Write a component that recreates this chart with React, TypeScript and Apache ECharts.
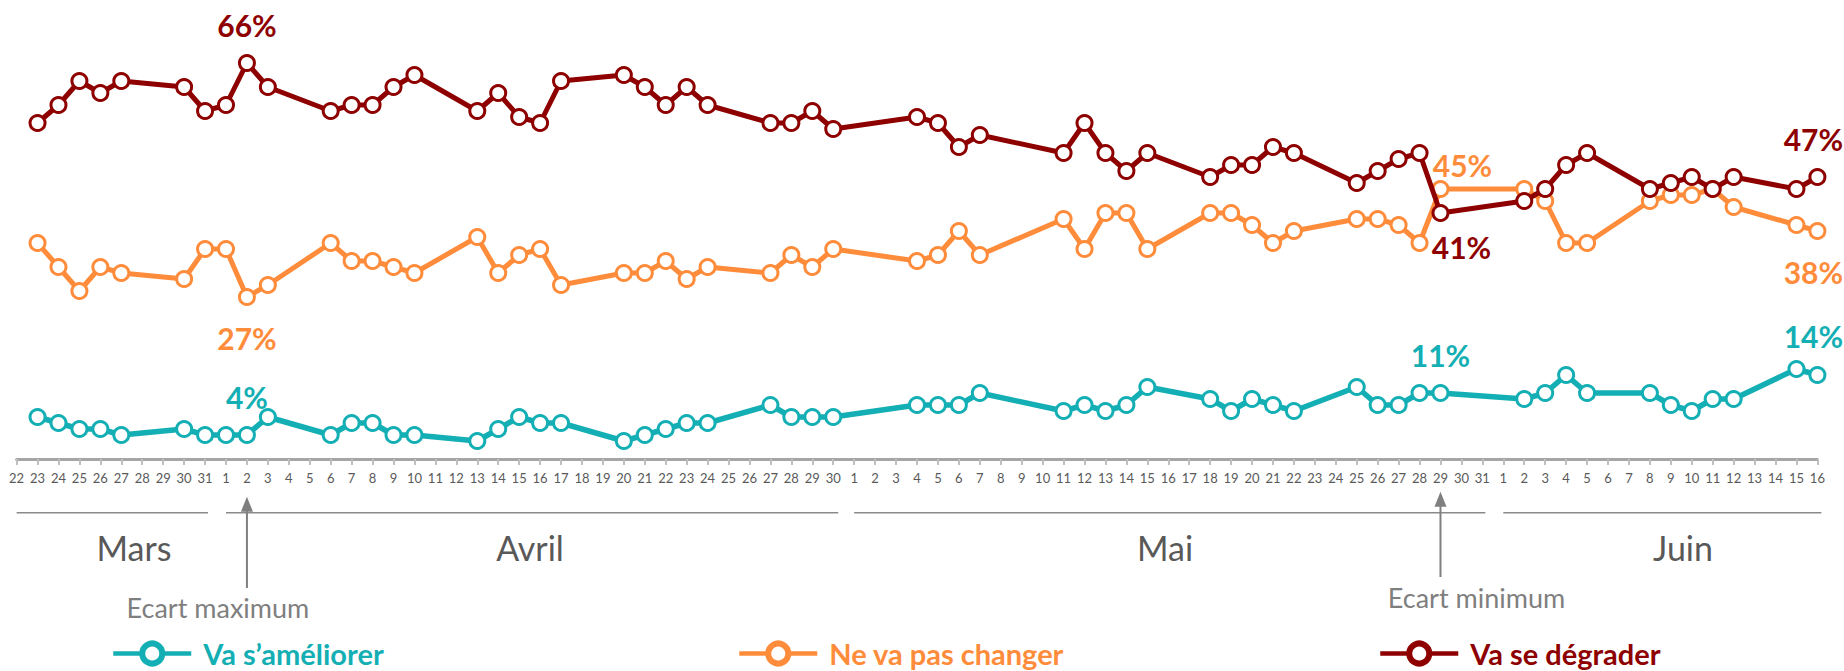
import React, { useEffect, useRef } from 'react';
import * as echarts from 'echarts';

// ---- Axis categories (days) ----
const marsDays = [22, 23, 24, 25, 26, 27, 28, 29, 30, 31];
const avrilDays = [1, 2, 3, 4, 5, 6, 7, 8, 9, 10, 11, 12, 13, 14, 15, 16, 17, 18, 19, 20, 21, 22, 23, 24, 25, 26, 27, 28, 29, 30];
const maiDays = [1, 2, 3, 4, 5, 6, 7, 8, 9, 10, 11, 12, 13, 14, 15, 16, 17, 18, 19, 20, 21, 22, 23, 24, 25, 26, 27, 28, 29, 30, 31];
const juinDays = [1, 2, 3, 4, 5, 6, 7, 8, 9, 10, 11, 12, 13, 14, 15, 16];

const monthNames = ['Mars', 'Avril', 'Mai', 'Juin'];

// ---- Survey dates ----
const surveyDates = [
  '23/03', '24/03', '25/03', '26/03', '27/03', '30/03', '31/03',
  '1/04', '2/04', '3/04', '6/04', '7/04', '8/04', '9/04', '10/04', '13/04', '14/04', '15/04', '16/04', '17/04',
  '20/04', '21/04', '22/04', '23/04', '24/04', '27/04', '28/04', '29/04', '30/04',
  '4/05', '5/05', '6/05', '7/05', '11/05', '12/05', '13/05', '14/05', '15/05', '18/05', '19/05', '20/05', '21/05',
  '22/05', '25/05', '26/05', '27/05', '28/05', '29/05',
  '2/06', '3/06', '4/06', '5/06', '8/06', '9/06', '10/06', '11/06', '12/06', '15/06', '16/06',
];

// ---- Series values (%) ----
const vaSeDegrader = [
  56, 59, 63, 61, 63, 62, 58,
  59, 66, 62, 58, 59, 59, 62, 64, 58, 61, 57, 56, 63, 64, 62, 59, 62, 59, 56, 56, 58, 55,
  57, 56, 52, 54, 51, 56, 51, 48, 51, 47, 49, 49, 52, 51, 46, 48, 50, 51, 41,
  43, 45, 49, 51, 45, 46, 47, 45, 47, 45, 47,
];
const neVaPasChanger = [
  36, 32, 28, 32, 31, 30, 35,
  35, 27, 29, 36, 33, 33, 32, 31, 37, 31, 34, 35, 29, 31, 31, 33, 30, 32, 31, 34, 32, 35,
  33, 34, 38, 34, 40, 35, 41, 41, 35, 41, 41, 39, 36, 38, 40, 40, 39, 36, 45,
  45, 43, 36, 36, 43, 44, 44, 45, 42, 39, 38,
];
const vaSAmeliorer = [
  7, 6, 5, 5, 4, 5, 4,
  4, 4, 7, 4, 6, 6, 4, 4, 3, 5, 7, 6, 6, 3, 4, 5, 6, 6, 9, 7, 7, 7,
  9, 9, 9, 11, 8, 9, 8, 9, 12, 10, 8, 10, 9, 8, 12, 9, 9, 11, 11,
  10, 11, 14, 11, 11, 9, 8, 10, 10, 15, 14,
];

const seriesNames = ['Va s\u2019améliorer', 'Ne va pas changer', 'Va se dégrader'];

const TEAL = '#14AFB4';
const ORANGE = '#FF8C3B';
const RED = '#8E0000';
const FONT = 'Lato';

const categories = [
  ...marsDays.map((d) => `${d}/03`),
  ...avrilDays.map((d) => `${d}/04`),
  ...maiDays.map((d) => `${d}/05`),
  ...juinDays.map((d) => `${d}/06`),
];

function buildData(values: number[], color: string, labels: Record<string, number[]>) {
  return categories.map((c) => {
    const idx = surveyDates.indexOf(c);
    if (idx < 0) return null;
    const v = values[idx];
    const off = labels[c];
    if (!off) return v;
    return {
      value: v,
      label: {
        show: true,
        position: 'inside',
        offset: off,
        formatter: '{c}%',
        color,
        fontSize: 30,
        fontWeight: 'bold',
        fontFamily: FONT,
      },
    };
  });
}

function makeSeries(name: string, color: string, values: number[], labels: Record<string, number[]>, lw: number, z: number) {
  return {
    name,
    type: 'line',
    data: buildData(values, color, labels),
    connectNulls: true,
    symbol: 'circle',
    symbolSize: 15,
    showAllSymbol: true,
    lineStyle: { color, width: lw },
    itemStyle: { color: '#fff', borderColor: color, borderWidth: 3 },
    emphasis: { disabled: true },
    z,
  };
}

export default function App() {
  const ref = useRef<HTMLDivElement>(null);
  useEffect(() => {
    const chart = echarts.init(ref.current!, null, { renderer: 'svg' });
    const legendBase = {
      top: 639,
      itemWidth: 78,
      itemHeight: 25,
      selectedMode: false,
      padding: 0,
      itemStyle: { borderWidth: 6 },
      lineStyle: { width: 4.5 },
    };
    const legendText = (color: string) => ({ color, fontSize: 29, lineHeight: 27, fontWeight: 'bold', fontFamily: FONT, padding: [0, 0, 0, 7] });
    const option: any = {
      animation: false,
      grid: { left: 16.6, right: 26.6, top: 39, bottom: 212 },
      xAxis: {
        type: 'category',
        data: categories,
        boundaryGap: false,
        axisLine: { lineStyle: { color: '#A6A6A6', width: 3 } },
        axisTick: { show: true, interval: 0, length: 6, lineStyle: { color: '#BFBFBF', width: 2 } },
        axisLabel: {
          interval: 0,
          margin: 12,
          fontSize: 13,
          color: '#595959',
          fontFamily: FONT,
          formatter: (v: string) => v.split('/')[0],
        },
        splitLine: { show: false },
      },
      yAxis: { type: 'value', min: 0, max: 70, show: false, splitLine: { show: false } },
      legend: [
        { ...legendBase, left: 111, data: [seriesNames[0]], textStyle: legendText(TEAL) },
        { ...legendBase, left: 737, data: [seriesNames[1]], textStyle: legendText(ORANGE) },
        { ...legendBase, left: 1378, data: [seriesNames[2]], textStyle: legendText(RED) },
      ],
      series: [
        makeSeries(seriesNames[0], TEAL, vaSAmeliorer, { '2/04': [0, -38], '29/05': [0, -38], '16/06': [-4, -39] }, 5.5, 2),
        makeSeries(seriesNames[1], ORANGE, neVaPasChanger, { '2/04': [0, 41], '29/05': [22, -24], '16/06': [-4, 41] }, 5, 3),
        makeSeries(seriesNames[2], RED, vaSeDegrader, { '2/04': [0, -38], '29/05': [21, 34], '16/06': [-4, -38] }, 5, 4),
      ],
    };
    chart.setOption(option);

    const px = (c: string) => chart.convertToPixel({ xAxisIndex: 0 }, c) as number;
    const lineY = 512.7;
    const gray = '#8A8A8A';
    const monthSpans = [
      [px('22/03'), px('31/03') + 3],
      [px('1/04'), px('30/04') + 5],
      [px('1/05'), px('31/05') + 3],
      [px('1/06'), px('16/06') + 4],
    ];
    const monthCenters = [134, 530, 1165, 1683];
    const graphics: any[] = [];
    monthSpans.forEach(([a, b], i) => {
      graphics.push({ type: 'line', shape: { x1: a, y1: lineY, x2: b, y2: lineY }, style: { stroke: gray, lineWidth: 1.5 }, silent: true });
      graphics.push({
        type: 'text', x: monthCenters[i], y: 547,
        style: { text: monthNames[i], fill: '#595959', fontSize: 34, fontFamily: FONT, align: 'center', verticalAlign: 'middle' },
        silent: true,
      });
    });
    const arrow = (x: number, tip: number, bottom: number, label: string, tx: number, ty: number) => {
      graphics.push({ type: 'line', shape: { x1: x, y1: tip + 12, x2: x, y2: bottom }, style: { stroke: '#7F7F7F', lineWidth: 2 }, silent: true });
      graphics.push({ type: 'polygon', shape: { points: [[x, tip], [x - 6, tip + 15], [x + 6, tip + 15]] }, style: { fill: '#7F7F7F' }, silent: true });
      graphics.push({
        type: 'text', x: tx, y: ty,
        style: { text: label, fill: '#7F7F7F', fontSize: 27, fontFamily: FONT, align: 'center', verticalAlign: 'middle' },
        silent: true,
      });
    };
    const xMax = px('2/04');
    const xMin = px('29/05');
    arrow(xMax, 496.7, 588, 'Ecart maximum', xMax - 29, 607);
    arrow(xMin, 491.7, 577, 'Ecart minimum', xMin + 36, 597);
    chart.setOption({ graphic: graphics });

    return () => chart.dispose();
  }, []);
  return <div ref={ref} style={{ position: 'absolute', left: 0, top: 0, width: 1844, height: 671 }} />;
}
